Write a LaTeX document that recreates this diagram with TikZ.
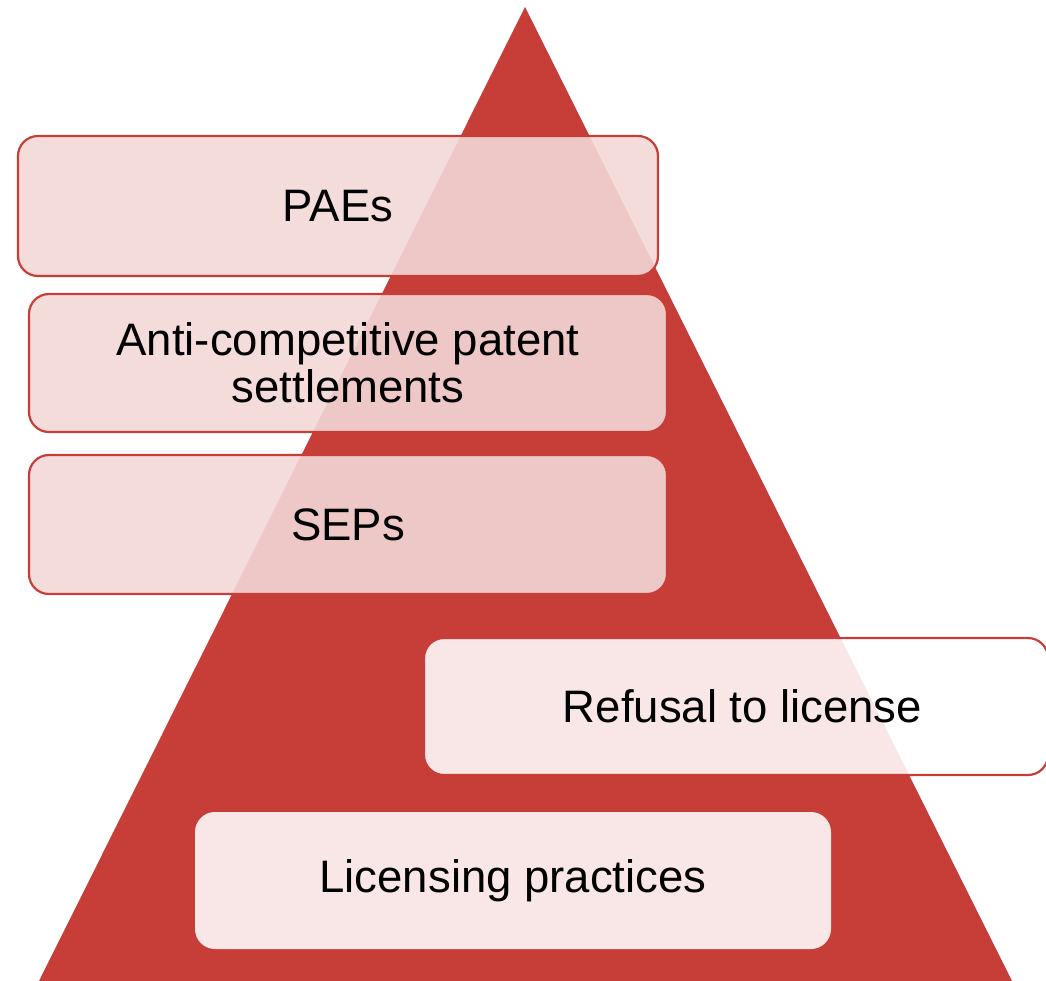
\documentclass[tikz,border=0pt]{standalone}
\usepackage{fontspec}
\setmainfont{Liberation Sans}
\definecolor{pyrred}{RGB}{198,62,55}
\definecolor{pinkfill}{RGB}{243,216,215}
\begin{document}
\begin{tikzpicture}[x=1pt,y=-1pt,
  boxbase/.style={rectangle,rounded corners=20pt,inner sep=0pt,align=center,
    font=\fontsize{45.5}{47}\selectfont,text=black,text opacity=1,line width=2.2pt},
  pinkbox/.style={boxbase,draw=pyrred,fill=pinkfill,fill opacity=0.9,draw opacity=1},
  whitebox/.style={boxbase,draw=pyrred,fill=white,fill opacity=0.88,draw opacity=1},
  plainbox/.style={boxbase,fill=white,fill opacity=0.88}]
\useasboundingbox (0,0) rectangle (1046,980);
\begin{scope}
\clip (0,0) rectangle (1046,980);
\fill[pyrred] (525,7) -- (37,985) -- (1014,985) -- cycle;
\node[pinkbox,minimum width=640pt,minimum height=140pt] (paes) at (338,206) {PAEs};
\node[pinkbox,minimum width=638pt,minimum height=138pt] (anti) at (348,363) {Anti-competitive patent\\settlements};
\node[pinkbox,minimum width=638pt,minimum height=139pt] (seps) at (348,524.5) {SEPs};
\node[whitebox,minimum width=624pt,minimum height=137pt] (refusal) at (736,706.5) {\hspace*{13pt}Refusal to license};
\node[plainbox,minimum width=636pt,minimum height=137pt] (lic) at (513,880.5) {Licensing practices};
\end{scope}
\end{tikzpicture}
\end{document}
